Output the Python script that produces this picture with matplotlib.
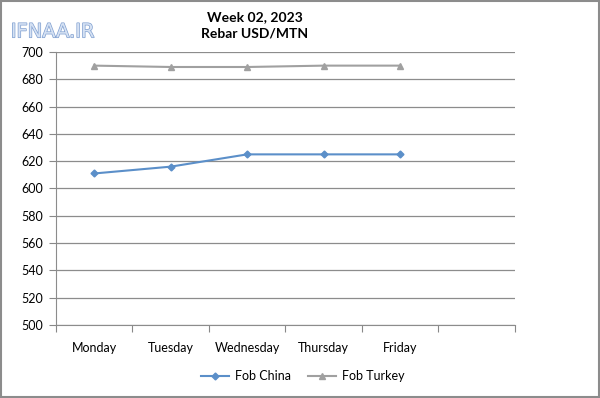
import matplotlib
matplotlib.use('Agg')
import matplotlib.pyplot as plt
import matplotlib.patheffects as pe

days = ['Monday', 'Tuesday', 'Wednesday', 'Thursday', 'Friday']
fob_china = [611, 616, 625, 625, 625]
fob_turkey = [690, 689, 689, 690, 690]

plt.rcParams['font.family'] = ['Lato', 'DejaVu Sans']

fig = plt.figure(figsize=(6, 3.98), dpi=100)
ax = fig.add_axes([0.0933, 0.1834, 0.765, 0.686])

x = list(range(len(days)))
ax.plot(x, fob_china, color='#5b8fc9', lw=1.5, marker='D', ms=3.5, label='Fob China')
ax.plot(x, fob_turkey, color='#a0a0a0', lw=1.5, marker='^', ms=4.5, label='Fob Turkey')

# 6 category slots, last one empty
ax.set_xlim(-0.5, 5.5)
ax.set_ylim(500, 700)
ax.set_yticks(range(500, 701, 20))
ax.set_xticks([i - 0.5 for i in range(7)])
ax.set_xticklabels([])
ax.set_xticks(x, minor=True)
ax.set_xticklabels(days, minor=True)
ax.tick_params(axis='x', which='minor', length=0, pad=12, labelsize=9)
ax.tick_params(axis='x', which='major', length=5, color='#888888', direction='out')
ax.tick_params(axis='y', length=5, color='#888888', labelsize=9, pad=4)

ax.grid(axis='y', color='#8c8c8c', lw=0.9)
ax.set_axisbelow(True)
for s in ['top', 'right']:
    ax.spines[s].set_visible(False)
for s in ['left', 'bottom']:
    ax.spines[s].set_color('#8c8c8c')

fig.text(0.425, 0.958, 'Week 02, 2023', ha='center', va='center', fontsize=10, fontweight='bold')
fig.text(0.425, 0.916, 'Rebar USD/MTN', ha='center', va='center', fontsize=10, fontweight='bold')

wm = fig.text(0.018, 0.92, 'IFNAA.IR', ha='left', va='center', fontsize=14,
              color='#d5e1f3', family='DejaVu Sans')
wm.set_path_effects([pe.withStroke(linewidth=1.0, foreground='#7f9fd0')])

fig.legend(loc='center', bbox_to_anchor=(0.505, 0.055), ncol=2, frameon=False,
           fontsize=9, handlelength=2.2, handletextpad=0.5, columnspacing=1.4)

# outer border
fig.patches.append(plt.Rectangle((0.002, 0.003), 0.996, 0.994, transform=fig.transFigure,
                                 fill=False, edgecolor='#8c8c8c', lw=1.5))

fig.savefig('out.png', dpi=100)
